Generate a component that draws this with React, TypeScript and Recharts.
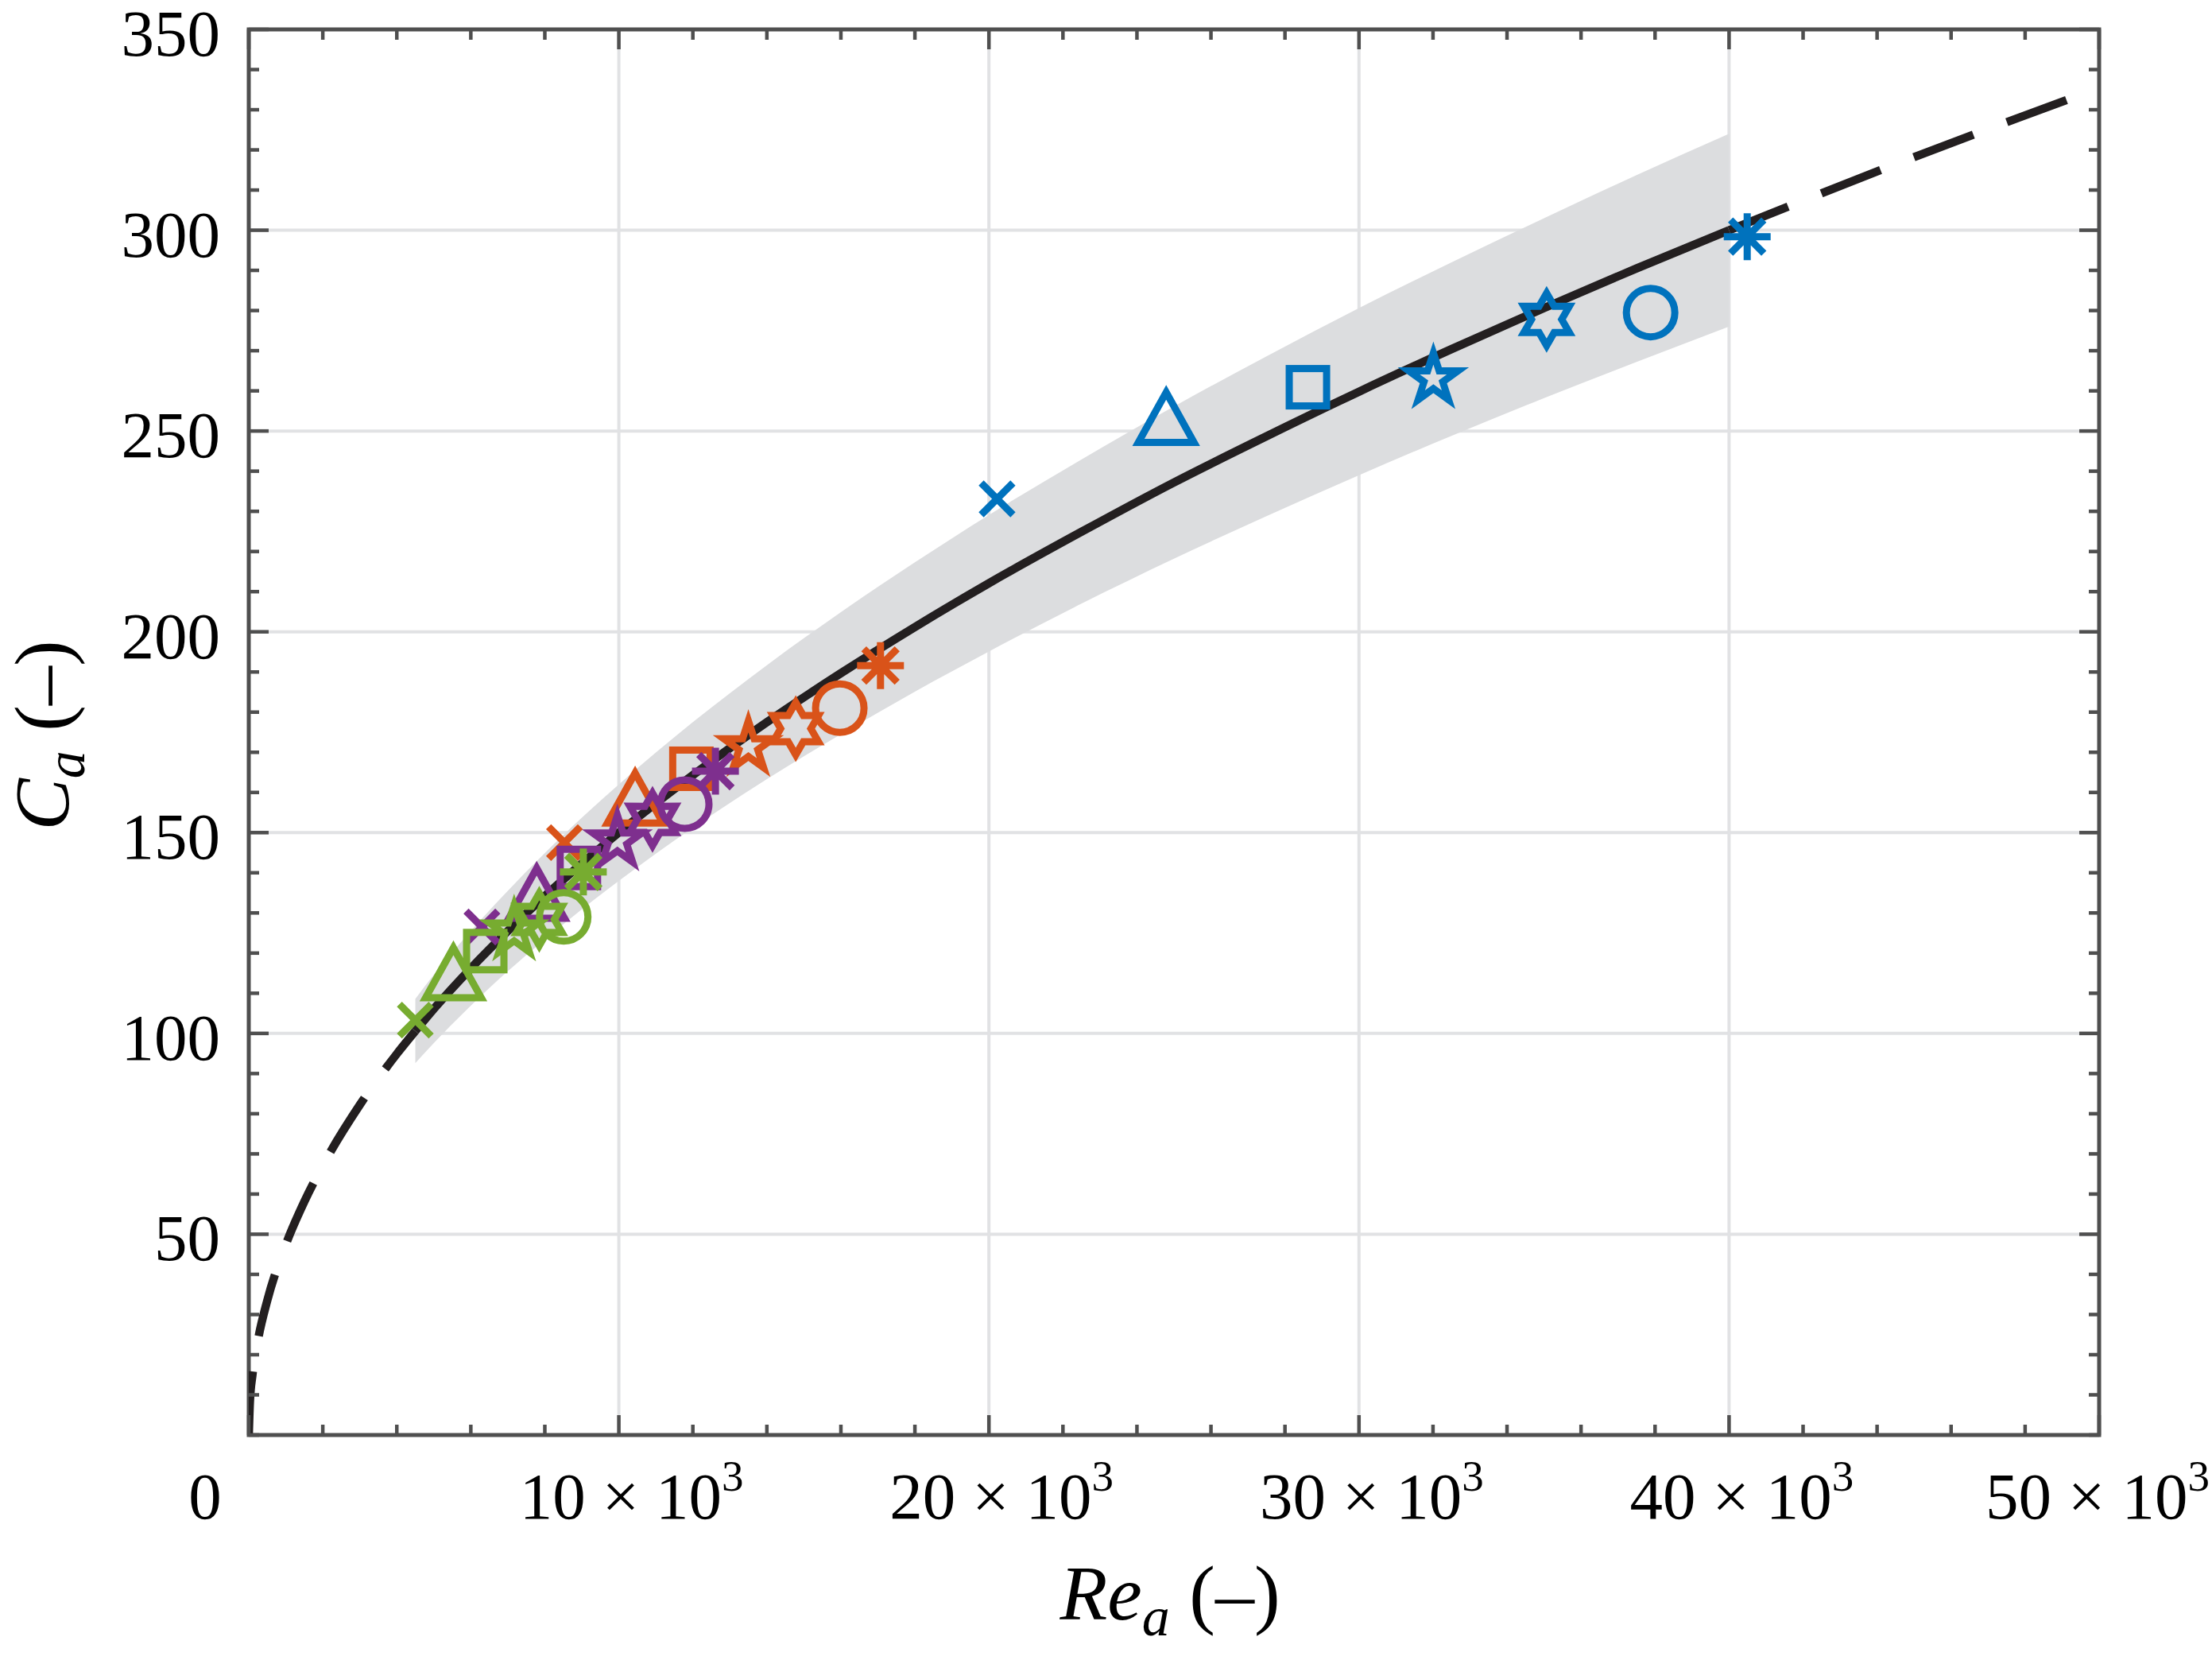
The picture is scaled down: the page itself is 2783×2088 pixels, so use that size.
import React from 'react';
import {
  ComposedChart,
  XAxis,
  YAxis,
  CartesianGrid,
  Line,
  Area,
  Scatter,
  ReferenceArea,
  Label,
} from 'recharts';

// ---------------- data ----------------
const markerTypes = ['x', 'triangle', 'square', 'pentagram', 'hexagram', 'circle', 'asterisk'];

const blueRe = [20220, 24790, 28620, 32010, 35070, 37880, 40490];
const blueCa = [233.1, 253.7, 260.9, 263.0, 277.8, 279.5, 298.4];

const orangeRe = [8530, 10440, 11960, 13500, 14780, 15970, 17070];
const orangeCa = [147.5, 158.9, 165.9, 171.4, 175.9, 181.0, 191.6];

const purpleRe = [6300, 7780, 8920, 9960, 10910, 11780, 12610];
const purpleCa = [126.5, 135.2, 141.2, 147.9, 153.3, 157.1, 165.3];

const greenRe = [4500, 5530, 6390, 7170, 7850, 8510, 9040];
const greenCa = [103.3, 115.4, 120.5, 125.5, 128.4, 129.0, 140.2];

// fitted curve
const curveRe = [
  0, 30, 100, 250, 500, 1000, 1500, 2000, 3000, 4000, 4500, 5000, 6000, 7000, 8000, 9000,
  10000, 12000, 14000, 16000, 18000, 20000, 22500, 25000, 27500, 30000, 32500, 35000, 37500,
  40000, 42500, 45000, 47500, 50000,
];
const curveCa = [
  0, 8.2, 15.0, 23.7, 33.5, 47.4, 58.1, 67.1, 82.2, 94.9, 100.6, 106.1, 116.2, 125.5, 134.2,
  142.3, 150.0, 164.3, 177.5, 189.7, 201.2, 212.1, 224.9, 237.2, 248.7, 259.8, 270.4, 280.6,
  290.5, 300.0, 309.2, 318.2, 326.9, 335.4,
];
const solidFrom = 4500;
const solidTo = 40000;

// grey uncertainty band
const bandRe = [
  4500, 5000, 6000, 7000, 8000, 9000, 10000, 12000, 14000, 16000, 18000, 20000, 22500, 25000,
  27500, 30000, 32500, 35000, 37500, 40000,
];
const bandLow = [
  92.6, 97.6, 106.9, 115.5, 123.4, 130.9, 138.0, 151.2, 163.3, 174.5, 185.1, 195.1, 207.0,
  218.2, 228.8, 239.0, 248.8, 258.2, 267.2, 276.0,
];
const bandHigh = [
  108.6, 114.6, 125.5, 135.5, 144.9, 153.7, 162.0, 177.5, 191.7, 204.9, 217.3, 229.1, 242.9,
  256.1, 268.6, 280.6, 292.0, 303.0, 313.7, 324.0,
];

// axes
const xTicks = [
  0, 2000, 4000, 6000, 8000, 10000, 12000, 14000, 16000, 18000, 20000, 22000, 24000, 26000,
  28000, 30000, 32000, 34000, 36000, 38000, 40000, 42000, 44000, 46000, 48000, 50000,
];
const xMajorTicks = [0, 10000, 20000, 30000, 40000, 50000];
const xMajorLabels = ['0', '10', '20', '30', '40', '50'];
const xGridValues = [10000, 20000, 30000, 40000];

const yTicks = [
  0, 10, 20, 30, 40, 50, 60, 70, 80, 90, 100, 110, 120, 130, 140, 150, 160, 170, 180, 190, 200,
  210, 220, 230, 240, 250, 260, 270, 280, 290, 300, 310, 320, 330, 340, 350,
];
const yMajorTicks = [50, 100, 150, 200, 250, 300, 350];
const yGridValues = [50, 100, 150, 200, 250, 300];

// ---------------- derived tables ----------------
const toRows = (re: number[], ca: number[]) =>
  re.map((r, i) => ({ re: r, ca: ca[i], m: markerTypes[i] }));

const blueRows = toRows(blueRe, blueCa);
const orangeRows = toRows(orangeRe, orangeCa);
const purpleRows = toRows(purpleRe, purpleCa);
const greenRows = toRows(greenRe, greenCa);

const curveRows = curveRe.map((r, i) => ({ re: r, ca: curveCa[i] }));
const leftDashRows = curveRows.filter((d) => d.re <= solidFrom);
const solidRows = curveRows.filter((d) => d.re >= solidFrom && d.re <= solidTo);
const rightDashRows = curveRows.filter((d) => d.re >= solidTo);

const bandRows = bandRe.map((r, i) => ({ re: r, band: [bandLow[i], bandHigh[i]] }));

// ---------------- styling ----------------
const W = 2783;
const H = 2088;
const PLOT_LEFT = 313;
const PLOT_RIGHT = 2641;
const PLOT_TOP = 37;
const PLOT_BOTTOM = 1805;
const FONT = '"Liberation Serif", "Times New Roman", Times, serif';
const AXIS = '#4f4f4f';
const GRID = '#e1e2e4';
const BAND = '#dcdddf';
const CURVE = '#231f20';
const BLUE = '#0072BD';
const ORANGE = '#D95319';
const PURPLE = '#7E2F8E';
const GREEN = '#77AC30';
const MSW = 9;
const CURVE_W = 10.5;

const starPoints = (cx: number, cy: number, n: number, R: number, r: number) => {
  const pts: string[] = [];
  for (let k = 0; k < 2 * n; k++) {
    const ang = -Math.PI / 2 + (k * Math.PI) / n;
    const rad = k % 2 === 0 ? R : r;
    pts.push(`${cx + rad * Math.cos(ang)},${cy + rad * Math.sin(ang)}`);
  }
  return pts.join(' ');
};

const makeShape = (color: string) => (props: any) => {
  const { cx, cy, payload } = props;
  if (cx == null || cy == null) return <g />;
  const common = {
    fill: 'none',
    stroke: color,
    strokeWidth: MSW,
    strokeLinejoin: 'miter' as const,
    strokeMiterlimit: 10,
  };
  switch (payload.m) {
    case 'x': {
      const h = 20;
      return (
        <path
          d={`M${cx - h},${cy - h}L${cx + h},${cy + h}M${cx - h},${cy + h}L${cx + h},${cy - h}`}
          {...common}
        />
      );
    }
    case 'triangle':
      return (
        <polygon
          points={`${cx},${cy - 30} ${cx + 35},${cy + 33} ${cx - 35},${cy + 33}`}
          {...common}
        />
      );
    case 'square':
      return <rect x={cx - 23.5} y={cy - 23.5} width={47} height={47} {...common} />;
    case 'pentagram':
      return <polygon points={starPoints(cx, cy, 5, 32.5, 12.4)} {...common} />;
    case 'hexagram':
      return <polygon points={starPoints(cx, cy, 6, 33, 19)} {...common} />;
    case 'circle':
      return <circle cx={cx} cy={cy} r={30.5} {...common} />;
    case 'asterisk': {
      const L = 29.5;
      const D = 21;
      return (
        <path
          d={`M${cx - L},${cy}L${cx + L},${cy}M${cx},${cy - L}L${cx},${cy + L}M${cx - D},${cy - D}L${cx + D},${cy + D}M${cx - D},${cy + D}L${cx + D},${cy - D}`}
          {...common}
        />
      );
    }
    default:
      return <g />;
  }
};

// label offsets relative to the tick (first and last are nudged to fit the figure)
const xLabelShift = (v: number) => (v === 0 ? -55 : v === 50000 ? -2 : 16);

const XTick = (props: any) => {
  const { x, payload } = props;
  const v = payload.value;
  const idx = xMajorTicks.indexOf(v);
  const len = idx >= 0 ? 25 : 13;
  return (
    <g>
      <line x1={x} x2={x} y1={PLOT_BOTTOM} y2={PLOT_BOTTOM - len} stroke={AXIS} strokeWidth={4.5} />
      <line x1={x} x2={x} y1={PLOT_TOP} y2={PLOT_TOP + len} stroke={AXIS} strokeWidth={4.5} />
      {idx >= 0 && (
        <text
          x={x + xLabelShift(v)}
          y={PLOT_BOTTOM + 105}
          textAnchor="middle"
          fontFamily={FONT}
          fontSize={83}
          fill="#000"
        >
          {v === 0 ? (
            xMajorLabels[idx]
          ) : (
            <>
              <tspan>{`${xMajorLabels[idx]} × 10`}</tspan>
              <tspan dy={-35} fontSize={55}>
                3
              </tspan>
            </>
          )}
        </text>
      )}
    </g>
  );
};

const YTick = (props: any) => {
  const { y, payload } = props;
  const v = payload.value;
  const major = yMajorTicks.indexOf(v) >= 0;
  const len = major ? 25 : 13;
  return (
    <g>
      <line x1={PLOT_LEFT} x2={PLOT_LEFT + len} y1={y} y2={y} stroke={AXIS} strokeWidth={4.5} />
      <line x1={PLOT_RIGHT} x2={PLOT_RIGHT - len} y1={y} y2={y} stroke={AXIS} strokeWidth={4.5} />
      {major && (
        <text
          x={PLOT_LEFT - 36}
          y={y + 33}
          textAnchor="end"
          fontFamily={FONT}
          fontSize={83}
          fill="#000"
        >
          {v}
        </text>
      )}
    </g>
  );
};

const XTitle = () => (
  <text
    x={(PLOT_LEFT + PLOT_RIGHT) / 2 - 5}
    y={2037}
    textAnchor="middle"
    fontFamily={FONT}
    fontSize={98}
    fill="#000"
    style={{ whiteSpace: 'pre' }}
  >
    <tspan fontStyle="italic">Re</tspan>
    <tspan fontStyle="italic" fontSize={70} dy={20}>
      a
    </tspan>
    <tspan dy={-20}>{' (–)'}</tspan>
  </text>
);

const YTitle = () => {
  const cx = 86;
  const cy = (PLOT_TOP + PLOT_BOTTOM) / 2 + 4;
  return (
    <text
      x={cx}
      y={cy}
      transform={`rotate(-90 ${cx} ${cy})`}
      textAnchor="middle"
      fontFamily={FONT}
      fontSize={98}
      fill="#000"
      style={{ whiteSpace: 'pre' }}
    >
      <tspan fontStyle="italic">C</tspan>
      <tspan fontStyle="italic" fontSize={70} dy={20}>
        a
      </tspan>
      <tspan dy={-20}>{' (–)'}</tspan>
    </text>
  );
};

export default function App() {
  return (
    <div style={{ position: 'absolute', left: 0, top: 0, width: W, height: H, background: '#fff' }}>
      <ComposedChart
        width={W}
        height={H}
        margin={{ top: PLOT_TOP, right: W - PLOT_RIGHT, bottom: H - PLOT_BOTTOM - 150, left: 0 }}
      >
        <CartesianGrid
          horizontalValues={yGridValues}
          verticalValues={xGridValues}
          stroke={GRID}
          strokeWidth={4}
        />
        <XAxis
          type="number"
          dataKey="re"
          domain={[0, 50000]}
          ticks={xTicks}
          interval={0}
          allowDataOverflow
          height={150}
          axisLine={false}
          tickLine={false}
          tick={XTick}
        >
          <Label content={XTitle} />
        </XAxis>
        <YAxis
          type="number"
          domain={[0, 350]}
          ticks={yTicks}
          interval={0}
          allowDataOverflow
          width={PLOT_LEFT}
          axisLine={false}
          tickLine={false}
          tick={YTick}
        >
          <Label content={YTitle} />
        </YAxis>
        <Area
          data={bandRows}
          dataKey="band"
          type="monotone"
          stroke="none"
          fill={BAND}
          fillOpacity={1}
          dot={false}
          activeDot={false}
          isAnimationActive={false}
        />
        <Line
          data={leftDashRows}
          dataKey="ca"
          type="monotone"
          stroke={CURVE}
          strokeWidth={CURVE_W}
          strokeDasharray="80 45"
          dot={false}
          activeDot={false}
          isAnimationActive={false}
        />
        <Line
          data={solidRows}
          dataKey="ca"
          type="monotone"
          stroke={CURVE}
          strokeWidth={CURVE_W}
          dot={false}
          activeDot={false}
          isAnimationActive={false}
        />
        <Line
          data={rightDashRows}
          dataKey="ca"
          type="monotone"
          stroke={CURVE}
          strokeWidth={CURVE_W}
          strokeDasharray="80 45"
          dot={false}
          activeDot={false}
          isAnimationActive={false}
        />
        <Scatter data={blueRows} dataKey="ca" shape={makeShape(BLUE)} isAnimationActive={false} />
        <Scatter data={orangeRows} dataKey="ca" shape={makeShape(ORANGE)} isAnimationActive={false} />
        <Scatter data={purpleRows} dataKey="ca" shape={makeShape(PURPLE)} isAnimationActive={false} />
        <Scatter data={greenRows} dataKey="ca" shape={makeShape(GREEN)} isAnimationActive={false} />
        <ReferenceArea
          x1={0}
          x2={50000}
          y1={0}
          y2={350}
          fill="none"
          fillOpacity={0}
          stroke={AXIS}
          strokeWidth={5}
          ifOverflow="visible"
        />
      </ComposedChart>
    </div>
  );
}
